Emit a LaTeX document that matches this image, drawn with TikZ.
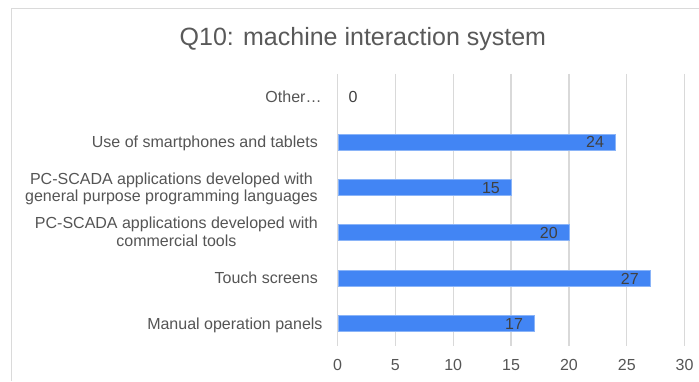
\documentclass[tikz,border=0pt]{standalone}
\usepackage{fontspec}
\setmainfont{Liberation Sans}
\definecolor{barblue}{HTML}{4285F4}
\definecolor{baredge}{HTML}{8AB4F8}
\definecolor{gridgray}{HTML}{D9D9D9}
\definecolor{framegray}{HTML}{DADADA}
\definecolor{titlegray}{HTML}{595959}
\definecolor{labelgray}{HTML}{555555}
\definecolor{valuegray}{HTML}{404040}

\begin{document}
\begin{tikzpicture}[x=1pt,y=-1pt,
  gridline/.style={draw=gridgray,line width=1.3pt},
  catlabel/.style={anchor=base east,inner sep=0pt,text=labelgray,
    font=\fontsize{16}{17.5}\selectfont,align=center},
  bar/.style={fill=barblue,draw=baredge,line width=0.8pt,anchor=west,
    minimum height=16pt,inner sep=0pt},
  vallabel/.style={inner sep=0pt,text=valuegray,font=\fontsize{16}{17.5}\selectfont},
  ticklabel/.style={anchor=base,inner sep=0pt,text=labelgray,
    font=\fontsize{16}{17.5}\selectfont},
]
\useasboundingbox (0,0) rectangle (699,381);
\fill[white] (0,0) rectangle (699,381);

% chart frame (top and left edges)
\coordinate (frameBL) at (11.7,381);
\coordinate (frameTL) at (11.7,8.5);
\coordinate (frameTR) at (699,8.5);
\draw[framegray,line width=1.5pt] (frameBL) -- (frameTL) -- (frameTR);

% title
\node[anchor=base,inner sep=0pt,font=\fontsize{25}{30}\selectfont,text=titlegray]
  (title) at (362.9,45.5) {Q10: machine interaction system};

% vertical gridlines and axis ticks
\foreach \v [count=\i] in {0,5,10,15,20,25,30} {
  \coordinate (gt\i) at (337.5+\v*11.57,73.8);
  \coordinate (gb\i) at (337.5+\v*11.57,346);
  \draw[gridline] (gt\i) -- (gb\i);
  \node[ticklabel] (tick\i) at (337.5+\v*11.57,370) {\v};
}

% category labels (base anchor sits on the last line)
\node[catlabel] (lab-other) at (321.7,102) {Other…};
\node[catlabel] (lab-smart) at (318,147.7) {Use of smartphones and tablets};
\node[catlabel] (lab-general) at (318,201.5) {PC-SCADA applications developed with\\general purpose programming languages};
\node[catlabel] (lab-commercial) at (318,246.4) {PC-SCADA applications developed with\\commercial tools};
\node[catlabel] (lab-touch) at (318,283.9) {Touch screens};
\node[catlabel] (lab-manual) at (322.7,329.3) {Manual operation panels};

% bars with value labels
\foreach \v/\yc/\nm in {24/141.9/smart,15/187.3/general,20/232.7/commercial,27/278.1/touch,17/323.5/manual} {
  \node[bar,minimum width=\v*11.57pt] (bar-\nm) at (337.5,\yc) {};
  \node[vallabel,anchor=base east] (val-\nm) at (337.5+\v*11.57-11,\yc+6) {\v};
}
\node[vallabel,anchor=base west] (val-other) at (348.3,102.5) {0};
\end{tikzpicture}
\end{document}
